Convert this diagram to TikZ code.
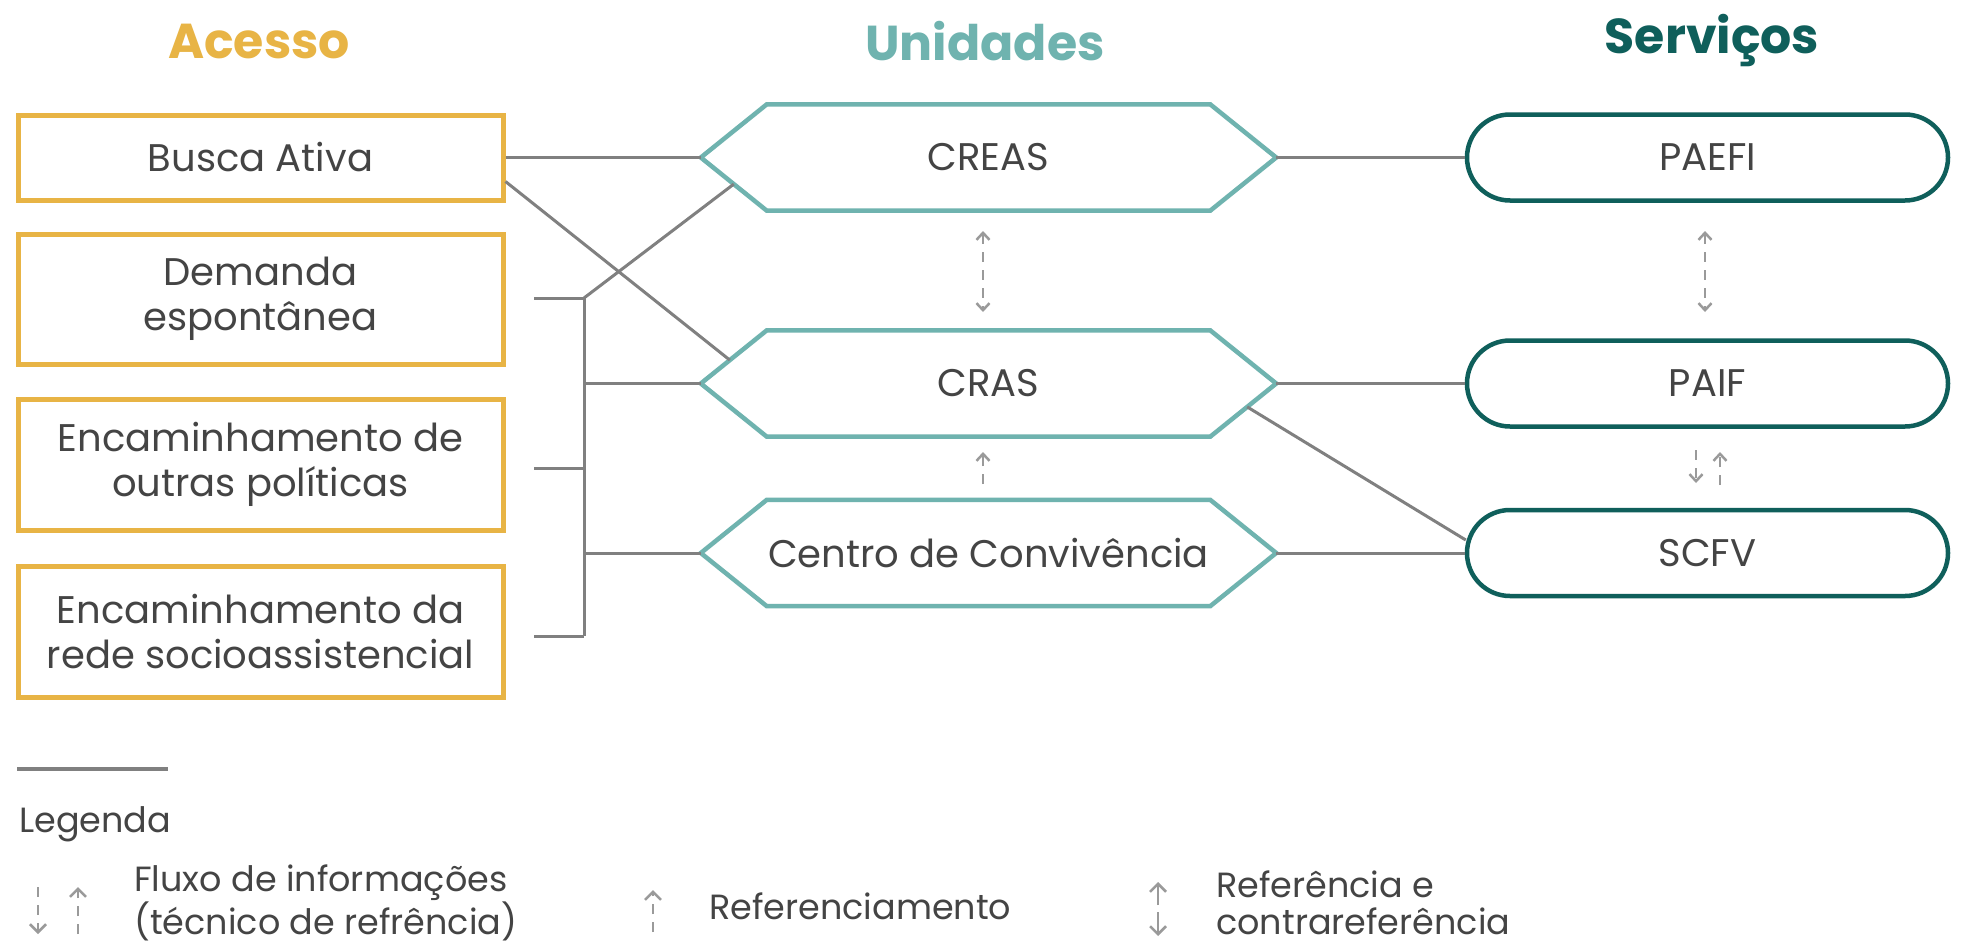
\documentclass[tikz,border=0pt]{standalone}
\usepackage{fontspec}
\setmainfont{Poppins}
\usetikzlibrary{calc,arrows.meta,shapes.misc}
\definecolor{gold}{HTML}{E8B445}
\definecolor{tealL}{HTML}{6FB3AF}
\definecolor{tealD}{HTML}{0F5F5B}
\definecolor{lineG}{HTML}{808080}
\definecolor{arrG}{HTML}{9A9A9A}
\definecolor{txt}{HTML}{444444}
\newcommand\hexpath[1]{\draw[hexline] (#1.west) -- ([xshift=66pt]#1.north west) -- ([xshift=-66pt]#1.north east) -- (#1.east) -- ([xshift=-66pt]#1.south east) -- ([xshift=66pt]#1.south west) -- cycle;}
\begin{document}
\begin{tikzpicture}[x=1pt,y=-1pt,
  bodyfont/.style={font=\fontsize{38.5}{45}\selectfont, text=txt},
  legfont/.style={font=\fontsize{35}{37}\selectfont, text=txt},
  title/.style={font=\fontsize{49}{55}\selectfont\bfseries},
  accbox/.style={bodyfont, draw=gold, line width=5pt, minimum width=485pt, align=center, inner sep=0pt},
  hexnode/.style={bodyfont, minimum width=575pt, minimum height=106pt, inner sep=0pt},
  hexline/.style={draw=tealL, line width=4.5pt, line join=miter},
  svcbox/.style={bodyfont, rounded rectangle, draw=tealD, line width=4.5pt, minimum width=481pt, minimum height=86pt, inner sep=0pt},
  conn/.style={draw=lineG, line width=3pt},
  info/.style={draw=arrG, line width=2.5pt, dash pattern=on 10pt off 8pt, arrows={-Straight Barb[length=7pt,width=13pt,line width=2.5pt]}},
  infosolid/.style={draw=arrG, line width=2.5pt, arrows={-Straight Barb[length=8pt,width=16pt,line width=2.5pt]}}
]
\useasboundingbox[fill=white] (0,0) rectangle (1962,945);

% titles
\node[title, text=gold] (tAcc) at (259,41) {Acesso};
\node[title, text=tealL] (tUni) at (985,41) {Unidades};
\node[title, text=tealD] (tSer) at (1712,41) {Serviços};

% access boxes
\node[accbox, minimum height=85pt] (busca) at (260.5,157.5) {Busca Ativa};
\node[accbox, minimum height=130pt] (dem) at (260.5,299) {Demanda\\espontânea};
\node[accbox, minimum height=131pt] (enc1) at (260.5,464.5) {Encaminhamento de\\outras políticas};
\node[accbox, minimum height=131pt] (enc2) at (260.5,631.5) {Encaminhamento da\\rede socioassistencial};

% units
\node[hexnode] (creas) at (988.5,157.5) {CREAS};
\node[hexnode] (cras) at (988.5,383.5) {CRAS};
\node[hexnode] (centro) at (988.5,553) {Centro de Convivência};
\hexpath{creas}
\hexpath{cras}
\hexpath{centro}

% services
\node[svcbox] (paefi) at (1707.5,157.5) {PAEFI};
\node[svcbox] (paif) at (1707.5,383.5) {PAIF};
\node[svcbox] (scfv) at (1707.5,553) {SCFV};

% bus coordinates
\coordinate (busTop) at (584,298);
\coordinate (busBot) at (584,636);
\coordinate (s1) at (534,298);
\coordinate (s2) at (534,468);
\coordinate (s3) at (534,636);
\coordinate (b2) at (584,468);
\coordinate (bCras) at (584,383.5);
\coordinate (bCentro) at (584,553);

% connectors
\draw[conn] (busca.east) -- (creas.west);
\draw[conn] ($(busca.east)+(0,24)$) -- ($(cras.west)!0.44!([xshift=66pt]cras.north west)$);
\draw[conn] (busTop) -- ($(creas.west)!0.5!([xshift=66pt]creas.south west)$);
\draw[conn] (busTop) -- (busBot);
\draw[conn] (s1) -- (busTop);
\draw[conn] (s2) -- (b2);
\draw[conn] (s3) -- (busBot);
\draw[conn] (bCras) -- (cras.west);
\draw[conn] (bCentro) -- (centro.west);
\draw[conn] (creas.east) -- (paefi.west);
\draw[conn] (cras.east) -- (paif.west);
\draw[conn] (centro.east) -- (scfv.west);
\draw[conn] ($(cras.east)!0.44!([xshift=-66pt]cras.south east)$) -- ($(scfv.west)+(1,-13)$);

% information arrows
\coordinate (u1t) at (983,231);
\coordinate (u1b) at (983,312);
\draw[info, arrows={Straight Barb[length=7pt,width=13pt,line width=2.5pt]-Straight Barb[length=7pt,width=13pt,line width=2.5pt]}] (u1t) -- (u1b);
\coordinate (u2t) at (983,452);
\coordinate (u2b) at (983,484);
\draw[info] (u2b) -- (u2t);
\coordinate (v1t) at (1705,231);
\coordinate (v1b) at (1705,312);
\draw[info, arrows={Straight Barb[length=7pt,width=13pt,line width=2.5pt]-Straight Barb[length=7pt,width=13pt,line width=2.5pt]}] (v1t) -- (v1b);
\coordinate (v2t) at (1696,450);
\coordinate (v2b) at (1696,483);
\draw[info] (v2t) -- (v2b);
\coordinate (v3t) at (1720,452);
\coordinate (v3b) at (1720,485);
\draw[info] (v3b) -- (v3t);

% legend
\coordinate (lgA) at (17,769);
\coordinate (lgB) at (168,769);
\draw[draw=lineG, line width=4pt] (lgA) -- (lgB);
\node[legfont, anchor=base west, inner sep=0pt] (legenda) at (19,832) {Legenda};

\coordinate (la1t) at (38,887);
\coordinate (la1b) at (38,934);
\draw[info, arrows={-Straight Barb[length=8pt,width=16pt,line width=2.5pt]}] (la1t) -- (la1b);
\coordinate (la2t) at (78,887);
\coordinate (la2b) at (78,934);
\draw[info, arrows={-Straight Barb[length=8pt,width=16pt,line width=2.5pt]}] (la2b) -- (la2t);
\node[legfont, anchor=base west, align=left, inner sep=0pt] (lt1) at (134,934) {Fluxo de informações\\(técnico de refrência)};

\coordinate (lb1t) at (653,890);
\coordinate (lb1b) at (653,932);
\draw[info, arrows={-Straight Barb[length=8pt,width=16pt,line width=2.5pt]}] (lb1b) -- (lb1t);
\node[legfont, anchor=west, inner sep=0pt] (lt2) at (709,906) {Referenciamento};

\coordinate (lc1t) at (1158,882);
\coordinate (lc1b) at (1158,905);
\draw[infosolid] (lc1b) -- (lc1t);
\coordinate (lc2t) at (1158,912);
\coordinate (lc2b) at (1158,936);
\draw[infosolid] (lc2t) -- (lc2b);
\node[legfont, anchor=base west, align=left, inner sep=0pt] (lt3) at (1216,934) {Referência e\\contrareferência};
\end{tikzpicture}
\end{document}
